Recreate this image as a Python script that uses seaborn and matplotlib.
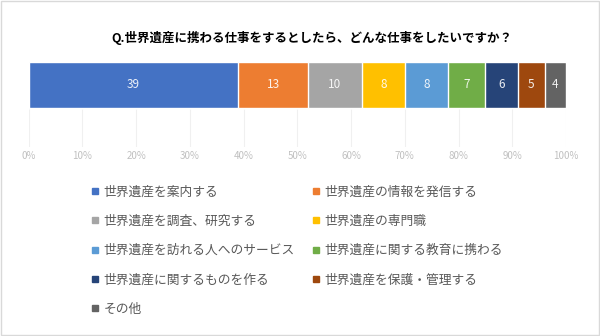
import seaborn as sns
import matplotlib.pyplot as plt
import pandas as pd
from matplotlib.lines import Line2D
from matplotlib.patches import Rectangle

# Datos
titulo = "Q.世界遺産に携わる仕事をするとしたら、どんな仕事をしたいですか？"
categorias = [
    "世界遺産を案内する",
    "世界遺産の情報を発信する",
    "世界遺産を調査、研究する",
    "世界遺産の専門職",
    "世界遺産を訪れる人へのサービス",
    "世界遺産に関する教育に携わる",
    "世界遺産に関するものを作る",
    "世界遺産を保護・管理する",
    "その他",
]
valores = [39, 13, 10, 8, 8, 7, 6, 5, 4]
colores = ["#4472C4", "#ED7D31", "#A5A5A5", "#FFC000", "#5B9BD5",
           "#70AD47", "#264478", "#9E480E", "#636363"]
ticks = list(range(0, 101, 10))
etiquetas_ticks = [f"{t}%" for t in ticks]

sns.set_theme(style="white")
plt.rcParams['font.family'] = ['Noto Sans CJK JP', 'DejaVu Sans']

df = pd.DataFrame({"categoria": categorias, "valor": valores})
df["acumulado"] = df["valor"].cumsum()
df["centro"] = df["acumulado"] - df["valor"] / 2

fig = plt.figure(figsize=(6, 3.36), dpi=100)
ax = fig.add_axes([28.7 / 600, 1 - 147 / 336, (566 - 28.7) / 600, (147 - 61.7) / 336])

# barras apiladas: se dibuja el acumulado de mayor a menor
for i in reversed(range(len(df))):
    sns.barplot(x=[df["acumulado"][i]], y=["Q"], color=colores[i],
                width=0.5, ax=ax, orient="h", saturation=1, zorder=2)

for c, v in zip(df["centro"], df["valor"]):
    ax.text(c, 0, str(v), color="white", ha="center", va="center",
            fontsize=8.5, alpha=0.9, zorder=3)

ax.set_xlim(0, 100)
ax.set_ylim(0.677, -0.25)
ax.set_xticks(ticks)
ax.set_xticklabels(etiquetas_ticks, fontsize=7, color="#c0c0c0")
ax.set_yticks([])
ax.set_xlabel("")
ax.set_ylabel("")
ax.tick_params(axis="x", length=0, pad=3)
ax.grid(axis="x", color="#f0f0f0", linewidth=0.8, zorder=0)
sns.despine(ax=ax, left=True, bottom=True)

fig.text(312 / 600, 1 - 38 / 336, titulo, ha="center", va="center",
         fontsize=9, fontweight="bold", color="black")

handles = [Line2D([0], [0], marker="s", color="none", markerfacecolor=c,
                  markeredgecolor=c, markersize=5) for c in colores]
orden = [0, 2, 4, 6, 8, 1, 3, 5, 7]
fig.legend([handles[i] for i in orden], [categorias[i] for i in orden],
           loc="upper left", bbox_to_anchor=(91 / 600, 1 - 185.5 / 336),
           ncol=2, frameon=False, fontsize=9.2, labelcolor="#595959",
           handlelength=0.7, handletextpad=0.3, columnspacing=1.3,
           labelspacing=1.28, borderpad=0, borderaxespad=0)

fig.patches.append(Rectangle((0.002, 0.003), 0.996, 0.994, transform=fig.transFigure,
                             fill=False, edgecolor="#d9d9d9", linewidth=1))

plt.savefig("out.png", dpi=100)
